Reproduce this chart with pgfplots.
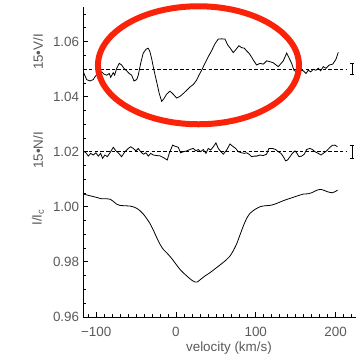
\documentclass[border=0pt]{standalone}
\usepackage{fontspec}
\setmainfont{Liberation Sans}
\usepackage{pgfplots}
\pgfplotsset{compat=1.18}
\definecolor{txt}{RGB}{90,90,90}
\definecolor{ell}{RGB}{250,35,10}
\begin{document}
\begin{tikzpicture}[font=\fontsize{13.4bp}{15bp}\selectfont]
\path[use as bounding box] (-83.3bp,-38.1bp) rectangle (272.7bp,316.9bp);
\begin{axis}[name=ax, at={(0,0)}, anchor=south west, scale only axis,
  width=272.7bp, height=310bp,
  xmin=-116.1, xmax=225.6, ymin=0.96, ymax=1.0726,
  axis x line*=bottom, axis y line*=left,
  axis line style={black, line width=0.8bp},
  tick align=inside, tick style={black, line width=0.7bp},
  major tick length=5bp, minor tick length=2.8bp,
  xtick={-100,0,100,200}, xticklabels={−100,0,100,200},
  minor xtick={-110,-90,-80,-70,-60,-50,-40,-30,-20,-10,10,20,30,40,50,60,70,80,90,110,120,130,140,150,160,170,180,190,210,220},
  ytick={0.96,0.98,1.00,1.02,1.04,1.06}, yticklabels={0.96,0.98,1.00,1.02,1.04,1.06},
  minor ytick={0.965,0.97,0.975,0.985,0.99,0.995,1.005,1.01,1.015,1.025,1.03,1.035,1.045,1.05,1.055,1.065,1.07},
  xticklabel style={text=txt, anchor=north, inner sep=0pt, yshift=-9.8bp},
  yticklabel style={text=txt, anchor=east, inner sep=0pt, xshift=-4bp},
  xlabel={velocity (km/s)},
  xlabel style={text=txt, at={(axis description cs:0.534,0)}, anchor=north, inner sep=0pt, yshift=-24.8bp},
]
% dashed reference lines
\addplot[black, line width=0.6bp, dash pattern=on 3.5bp off 2.2bp] coordinates {(-116.1,1.05) (213,1.05)};
\addplot[black, line width=0.6bp, dash pattern=on 3.5bp off 2.2bp] coordinates {(-116.1,1.02) (213,1.02)};
% 15*V/I
\addplot[black, line width=0.8bp] coordinates {
(-116.1,1.0490) (-111.9,1.0462) (-107.8,1.0457) (-103.6,1.0462) (-101.5,1.0472) (-97.3,1.0487)
(-93.1,1.0490) (-90.2,1.0482) (-86.8,1.0478) (-83.5,1.0484) (-81.8,1.0470) (-78.6,1.0487)
(-76.8,1.0478) (-74.3,1.0503) (-71.0,1.0521) (-68.1,1.0515) (-65.2,1.0503) (-61.8,1.0494)
(-58.5,1.0484) (-55.5,1.0478) (-52.6,1.0457) (-49.2,1.0462) (-47.2,1.0478) (-44.2,1.0521)
(-41.0,1.0558) (-37.6,1.0572) (-34.7,1.0576) (-32.6,1.0563) (-30.5,1.0539) (-27.6,1.0497)
(-24.2,1.0454) (-20.9,1.0411) (-17.9,1.0383) (-15.0,1.0393) (-11.7,1.0409) (-7.5,1.0420)
(-3.4,1.0409) (0.8,1.0395) (5.0,1.0401) (9.1,1.0411) (13.4,1.0423) (17.5,1.0435)
(21.7,1.0444) (25.9,1.0460) (28.8,1.0478) (32.2,1.0496) (36.3,1.0521) (40.5,1.0545)
(44.7,1.0567) (48.9,1.0592) (53.0,1.0609) (57.3,1.0610) (61.4,1.0609) (64.8,1.0588)
(68.0,1.0576) (71.8,1.0560) (74.8,1.0570) (78.9,1.0585) (82.3,1.0578) (85.6,1.0576)
(88.6,1.0566) (91.5,1.0558) (94.9,1.0543) (96.9,1.0533) (101.1,1.0515) (105.3,1.0521)
(109.4,1.0518) (113.7,1.0530) (117.8,1.0527) (121.9,1.0523) (128.2,1.0509) (134.5,1.0530)
(138.7,1.0558) (142.0,1.0539) (145.0,1.0521) (147.9,1.0496) (151.5,1.0488) (155.4,1.0496)
(159.5,1.0494) (162.9,1.0484) (165.8,1.0496) (168.8,1.0490) (172.1,1.0499) (175.4,1.0496)
(178.3,1.0503) (181.3,1.0494) (184.6,1.0509) (188.0,1.0503) (192.1,1.0515) (196.4,1.0518)
(200.5,1.0536) (203.4,1.0561)
};
% 15*N/I
\addplot[black, line width=0.8bp] coordinates {
(-116.1,1.0203) (-112.8,1.0196) (-109.9,1.0184) (-106.9,1.0194) (-103.6,1.0188) (-100.3,1.0196)
(-97.3,1.0184) (-94.4,1.0194) (-91.9,1.0176) (-89.0,1.0188) (-86.0,1.0182) (-82.7,1.0196)
(-78.5,1.0216) (-75.2,1.0203) (-72.3,1.0196) (-68.1,1.0182) (-63.9,1.0200) (-59.7,1.0212)
(-56.8,1.0218) (-53.5,1.0212) (-50.1,1.0203) (-47.2,1.0212) (-44.3,1.0200) (-40.9,1.0191)
(-37.6,1.0196) (-34.7,1.0184) (-31.7,1.0194) (-28.4,1.0188) (-24.2,1.0186) (-20.1,1.0185)
(-15.9,1.0179) (-10.9,1.0170) (-8.4,1.0194) (-4.2,1.0224) (-1.3,1.0220) (2.9,1.0216)
(5.8,1.0196) (9.2,1.0200) (13.4,1.0203) (17.5,1.0208) (21.7,1.0212) (25.1,1.0203)
(28.0,1.0208) (30.9,1.0200) (34.3,1.0208) (37.6,1.0194) (40.5,1.0212) (43.4,1.0206)
(46.8,1.0218) (50.1,1.0232) (53.0,1.0212) (56.4,1.0200) (59.3,1.0191) (63.5,1.0206)
(67.7,1.0228) (71.8,1.0218) (74.8,1.0212) (78.1,1.0200) (82.3,1.0196) (85.6,1.0194)
(88.6,1.0196) (91.5,1.0191) (94.8,1.0182) (98.2,1.0184) (101.1,1.0184) (105.3,1.0188)
(109.4,1.0186) (113.6,1.0191) (116.5,1.0212) (120.7,1.0212) (124.9,1.0208) (128.2,1.0200)
(131.6,1.0194) (134.5,1.0182) (137.4,1.0167) (139.9,1.0170) (142.9,1.0182) (145.8,1.0194)
(149.1,1.0203) (151.2,1.0196) (154.1,1.0182) (157.5,1.0184) (160.8,1.0191) (163.8,1.0208)
(167.9,1.0212) (170.9,1.0208) (174.2,1.0200) (178.4,1.0194) (181.7,1.0188) (184.6,1.0194)
(188.8,1.0203) (193.0,1.0216) (195.9,1.0223) (199.2,1.0224) (202.2,1.0218)
};
% I/Ic
\addplot[black, line width=0.8bp, smooth, tension=0.4] coordinates {
(-116.1,1.00461) (-107.8,1.00400) (-99.4,1.00340) (-93.1,1.00291) (-86.9,1.00291) (-81.9,1.00268)
(-78.5,1.00195) (-74.4,1.00098) (-70.2,1.00050) (-63.9,1.00037) (-57.6,1.00025) (-51.4,0.99977)
(-46.0,0.99880) (-40.9,0.99735) (-36.8,0.99578) (-32.6,0.99396) (-28.4,0.99154) (-24.2,0.98888)
(-20.1,0.98646) (-15.9,0.98453) (-10.9,0.98307) (-5.4,0.98126) (0.8,0.97884) (5.0,0.97727)
(10.0,0.97581) (15.5,0.97436) (19.6,0.97339) (23.8,0.97267) (26.7,0.97267) (30.9,0.97364)
(36.3,0.97485) (42.6,0.97605) (48.9,0.97745) (55.1,0.97884) (61.4,0.98029) (67.7,0.98210)
(71.8,0.98404) (76.0,0.98646) (80.2,0.98973) (84.4,0.99299) (88.6,0.99578) (92.7,0.99759)
(99.0,0.99904) (105.3,1.00001) (111.5,1.00037) (117.8,1.00050) (124.1,1.00098) (130.3,1.00171)
(136.6,1.00243) (142.9,1.00304) (149.1,1.00364) (155.4,1.00425) (159.6,1.00461) (165.9,1.00473)
(170.0,1.00509) (174.2,1.00570) (178.4,1.00618) (181.7,1.00630) (184.6,1.00606) (188.8,1.00558)
(193.0,1.00521) (195.9,1.00509) (199.2,1.00546) (202.6,1.00606)
};
% error bars
\addplot[black, line width=0.8bp, mark=none, error bars/.cd, y dir=both, y explicit,
  error mark=-, error bar style={black, line width=0.8bp},
  error mark options={black, line width=0.8bp, mark size=2bp, rotate=90}]
  coordinates {(220.5,1.05) +- (0,0.0021)};
\addplot[black, line width=0.8bp, mark=none, error bars/.cd, y dir=both, y explicit,
  error mark=-, error bar style={black, line width=0.8bp},
  error mark options={black, line width=0.8bp, mark size=2bp, rotate=90}]
  coordinates {(220.5,1.0198) +- (0,0.0024)};
\coordinate (ec) at (axis cs:28.2,1.0514);
\end{axis}
\node[rotate=90, text=txt] at ([shift={(-45.3bp,264.9bp)}]ax.south west) {15•V/I};
\node[rotate=90, text=txt] at ([shift={(-45.3bp,166.4bp)}]ax.south west) {15•N/I};
\node[rotate=90, text=txt] at ([shift={(-45.3bp,99.4bp)}]ax.south west) {I/I\textsubscript{c}};
\draw[ell, line width=6bp] (ec) ellipse [x radius=100.5bp, y radius=59bp];
\end{tikzpicture}
\end{document}
